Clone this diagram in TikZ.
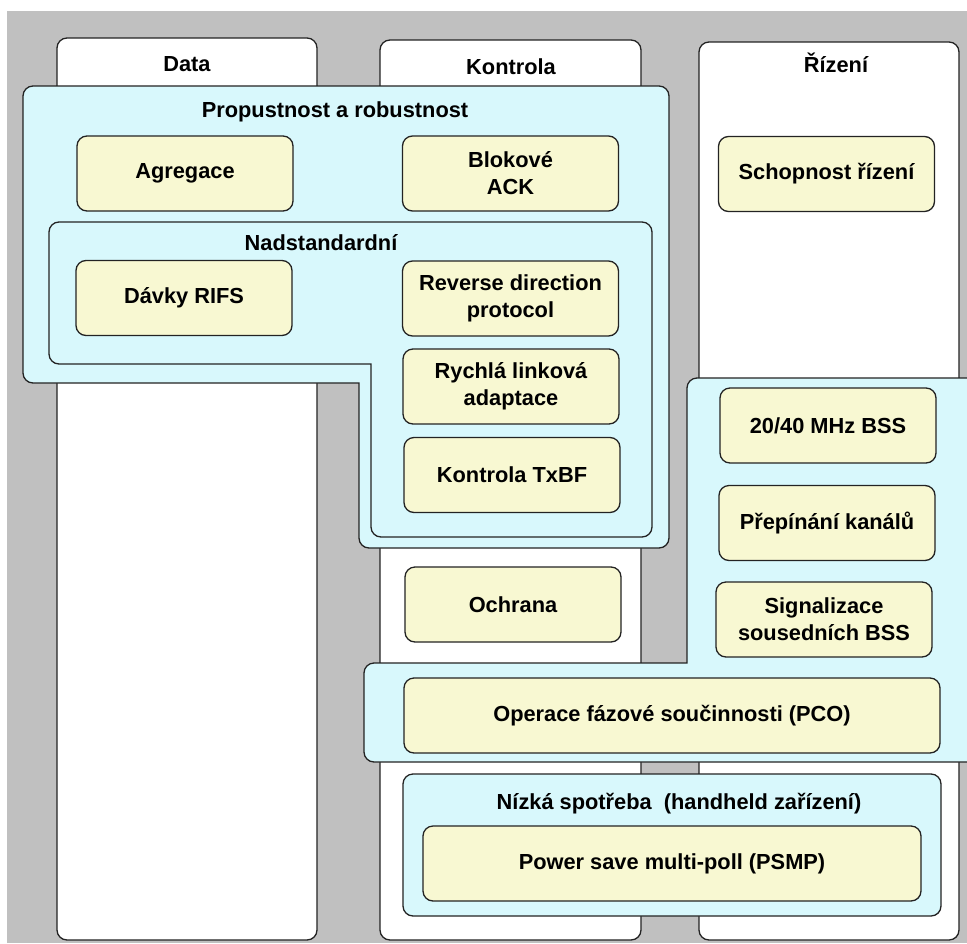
\documentclass[tikz,border=0pt]{standalone}
\usepackage{xcolor}
\usepackage{tikz}
\usetikzlibrary{calc,backgrounds,positioning}
\usepackage{fontspec}
\setmainfont{Liberation Sans}
\definecolor{bgray}{RGB}{192,192,192}
\definecolor{zcyan}{RGB}{216,248,252}
\definecolor{byellow}{RGB}{248,248,210}
\definecolor{edge}{RGB}{35,35,35}

\begin{document}
\begin{tikzpicture}[x=1pt,y=-1pt,
  col/.style={draw=edge,fill=white,line width=1.3pt,rounded corners=10pt},
  zone/.style={draw=edge,fill=zcyan,line width=1.3pt},
  box/.style={draw=edge,fill=byellow,line width=1.3pt,rounded corners=10pt,minimum width=216pt,minimum height=75pt,inner sep=0pt,align=center,font=\bfseries\fontsize{21.8}{27}\selectfont},
  ttl/.style={anchor=base,inner sep=0pt,font=\bfseries\fontsize{21.8}{27}\selectfont}]
\useasboundingbox (0,0) rectangle (967,943);
\fill[bgray] (7,11) rectangle (967,943);
\draw[col] (57,38) rectangle (317,940);
\draw[col] (380,40) rectangle (641,940);
\draw[col] (699,42) rectangle (959,940);
\node[ttl] (D) at (187,71) {Data};
\node[ttl] (K) at (511,74) {Kontrola};
\node[ttl] (R) at (836,72) {Řízení};
\draw[zone] (359,383) [rounded corners=10pt] -- (23,383) -- (23,86) -- (669,86) -- (669,548) -- (359,548) [sharp corners] -- cycle;
\node[ttl] (P) at (335,117) {Propustnost a robustnost};
\draw[zone] (371,364) [rounded corners=10pt] -- (49,364) -- (49,222) -- (652,222) -- (652,537) -- (371,537) [sharp corners] -- cycle;
\node[ttl] (N) at (321,250) {Nadstandardní};
\draw[zone] (687,663) [rounded corners=10pt] -- (687,378) -- (985,378) -- (985,762) -- (364,762) -- (364,663) [sharp corners] -- cycle;
\draw[zone,rounded corners=10pt] (403,774) rectangle (941,916);
\node[ttl] (L) at (679,809) {Nízká spotřeba\ \ (handheld zařízení)};
\node[box] (Ag) at (185,173.5) {Agregace};
\node[box] (BA) at (510.5,173.5) {Blokové\\ACK};
\node[box] (SR) at (826.5,174) {Schopnost řízení};
\node[box] (RF) at (184,298) {Dávky RIFS};
\node[box] (RD) at (510.5,298.5) {Reverse direction\\protocol};
\node[box] (RL) at (511,386.5) {Rychlá linková\\adaptace};
\node[box] (TX) at (512,475) {Kontrola TxBF};
\node[box] (O) at (513,604.5) {Ochrana};
\node[box] (M) at (828,425.5) {20/40 MHz BSS};
\node[box] (PK) at (827,523) {Přepínání kanálů};
\node[box] (S) at (824,619.5) {Signalizace\\sousedních BSS};
\node[box,minimum width=536pt] (PC) at (672,715.5) {Operace fázové součinnosti (PCO)};
\node[box,minimum width=498pt] (PS) at (672,863.5) {Power save multi-poll (PSMP)};
\end{tikzpicture}
\end{document}
